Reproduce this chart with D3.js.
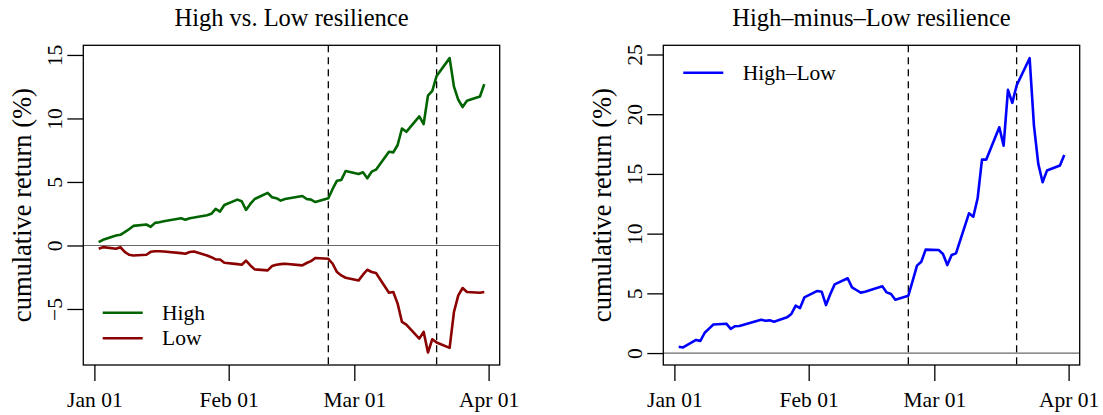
<!DOCTYPE html>
<html><head><meta charset="utf-8">
<script src="https://cdn.jsdelivr.net/npm/d3@7"></script>
<style>
body{margin:0;background:#fff}
svg{display:block}
text{font-family:"Liberation Serif","Times New Roman",serif;fill:#000}
</style>
</head><body>
<svg id="c" width="1103" height="415"></svg>
<script>
// ---------------- data ----------------
const dates = [
 "2020-01-02","2020-01-03","2020-01-06","2020-01-07","2020-01-08","2020-01-09","2020-01-10",
 "2020-01-13","2020-01-14","2020-01-15","2020-01-16","2020-01-17","2020-01-21","2020-01-22",
 "2020-01-23","2020-01-24","2020-01-27","2020-01-28","2020-01-29","2020-01-30","2020-01-31",
 "2020-02-03","2020-02-04","2020-02-05","2020-02-06","2020-02-07","2020-02-10","2020-02-11",
 "2020-02-12","2020-02-13","2020-02-14","2020-02-18","2020-02-19","2020-02-20","2020-02-21",
 "2020-02-24","2020-02-25","2020-02-26","2020-02-27","2020-02-28",
 "2020-03-02","2020-03-03","2020-03-04","2020-03-05","2020-03-06","2020-03-09","2020-03-10",
 "2020-03-11","2020-03-12","2020-03-13","2020-03-16","2020-03-17","2020-03-18","2020-03-19",
 "2020-03-20","2020-03-23","2020-03-24","2020-03-25","2020-03-26","2020-03-27","2020-03-30","2020-03-31"
];
const highRet = [
 0.26,0.45,0.79,0.84,1.05,1.28,1.54,1.65,1.47,1.78,1.83,1.91,2.15,2.02,2.15,2.20,2.38,2.49,2.88,2.67,3.19,
 3.61,3.48,2.80,3.27,3.66,4.14,3.80,3.72,3.53,3.66,3.90,3.66,3.61,3.42,3.72,4.45,5.10,5.16,5.86,
 5.63,5.76,5.29,5.81,5.97,7.38,7.33,7.91,9.21,8.95,10.16,9.55,11.80,12.17,13.35,14.75,12.51,11.47,10.90,11.39,11.73,12.70
];
const lowRet = [
 -0.26,-0.13,-0.26,-0.14,-0.50,-0.73,-0.79,-0.73,-0.50,-0.45,-0.45,-0.47,-0.60,-0.65,-0.52,-0.47,-0.79,-0.92,-1.10,-1.10,-1.36,
 -1.47,-1.52,-1.20,-1.57,-1.88,-1.96,-1.62,-1.52,-1.47,-1.44,-1.57,-1.38,-1.23,-0.98,-1.05,-1.44,-2.09,-2.36,-2.54,
 -2.75,-2.30,-1.91,-2.09,-2.17,-3.72,-3.66,-4.58,-6.02,-6.23,-7.33,-6.80,-8.43,-7.38,-7.64,-8.06,-5.24,-3.93,-3.35,-3.66,-3.72,-3.66
];
const hmlRet = [
 0.53,0.47,1.10,1.02,1.70,2.05,2.39,2.46,2.03,2.25,2.26,2.37,2.79,2.71,2.74,2.63,2.99,3.27,3.97,3.77,4.66,
 5.20,5.14,4.02,4.94,5.75,6.26,5.50,5.28,5.06,5.14,5.59,5.08,4.94,4.47,4.80,6.05,7.32,7.65,8.66,
 8.63,8.30,7.37,8.21,8.35,11.70,11.42,12.96,16.20,16.20,18.91,17.37,22.04,20.95,22.40,24.69,19.05,15.84,14.30,15.28,15.70,16.59
];
const xTickDates = ["2020-01-01","2020-02-01","2020-03-01","2020-04-01"];
const xTickLabels = ["Jan 01","Feb 01","Mar 01","Apr 01"];
const eventDates = ["2020-02-24","2020-03-20"];
const leftYTicks = [-5,0,5,10,15];
const rightYTicks = [0,5,10,15,20,25];
const leftYDomain = [-9.41,15.76];
const rightYDomain = [-1.0,25.77];
const leftTitle = "High vs. Low resilience";
const rightTitle = "High\u2013minus\u2013Low resilience";
const yLabel = "cumulative return (%)";

// ---------------- drawing ----------------
const parse = s => new Date(s + "T00:00:00Z");
const dts = dates.map(parse);
const svg = d3.select("#c");
svg.append("rect").attr("width",1103).attr("height",415).attr("fill","#fff");

const spanMs = dts[dts.length-1] - dts[0];
const xDomain = [new Date(+dts[0] - 0.04*spanMs), new Date(+dts[dts.length-1] + 0.04*spanMs)];

function panel(opt){
  const {x0,x1,y0,y1} = opt;
  const g = svg.append("g");
  const x = d3.scaleUtc().domain(xDomain).range([x0,x1]);
  const y = d3.scaleLinear().domain(opt.yDomain).range([y1,y0]);

  // zero line
  g.append("line").attr("x1",x0).attr("x2",x1).attr("y1",y(0)).attr("y2",y(0))
    .attr("stroke","#6a6a6a").attr("stroke-width",1.2);

  // event lines
  eventDates.forEach(e=>{
    g.append("line").attr("x1",x(parse(e))).attr("x2",x(parse(e))).attr("y1",y0).attr("y2",y1)
      .attr("stroke","#000").attr("stroke-width",1.3).attr("stroke-dasharray","7,5");
  });

  // series
  opt.series.forEach(s=>{
    const line = d3.line().x((d,i)=>x(dts[i])).y(d=>y(d));
    g.append("path").datum(s.values).attr("d",line).attr("fill","none")
      .attr("stroke",s.color).attr("stroke-width",2.6).attr("stroke-linejoin","round");
  });

  // box
  g.append("rect").attr("x",x0).attr("y",y0).attr("width",x1-x0).attr("height",y1-y0)
    .attr("fill","none").attr("stroke","#000").attr("stroke-width",1.3);

  // x axis
  const xa = g.append("g").attr("transform",`translate(0,${y1})`)
    .call(d3.axisBottom(x).tickValues(xTickDates.map(parse)).tickSize(16)
      .tickFormat((d,i)=>xTickLabels[i]));
  xa.select(".domain").remove();
  xa.selectAll(".tick line").attr("stroke","#000").attr("stroke-width",1.3);
  xa.selectAll(".tick text").attr("y",42).attr("dy",0).style("font-size","21.5px")
    .style("font-family","Liberation Serif").attr("fill","#000");

  // y axis
  const ya = g.append("g").attr("transform",`translate(${x0},0)`)
    .call(d3.axisLeft(y).tickValues(opt.yTicks).tickSize(16)
      .tickFormat(d=> d<0 ? "\u2212"+Math.abs(d) : String(d)));
  ya.select(".domain").remove();
  ya.selectAll(".tick line").attr("stroke","#000").attr("stroke-width",1.3);
  ya.selectAll(".tick text").attr("x",0).attr("dy",0).attr("text-anchor","middle")
    .attr("transform","translate(-21.3,0) rotate(-90)")
    .style("font-size","21.5px").style("font-family","Liberation Serif").attr("fill","#000");

  // title
  g.append("text").attr("x",(x0+x1)/2).attr("y",26).attr("text-anchor","middle")
    .style("font-size","24.5px").text(opt.title);

  // y label
  g.append("text").attr("transform",`translate(${x0-52.3},${(y0+y1)/2}) rotate(-90)`)
    .attr("text-anchor","middle").style("font-size","26.5px").text(yLabel);

  // legend
  opt.legend.forEach(l=>{
    g.append("line").attr("x1",x0+l.dx).attr("x2",x0+l.dx+40).attr("y1",l.y).attr("y2",l.y)
      .attr("stroke",l.color).attr("stroke-width",2.6);
    g.append("text").attr("x",x0+l.dx+59.4).attr("y",l.y+7).style("font-size","21.5px").text(l.label);
  });
}

panel({x0:83.3,x1:499.7,y0:45.3,y1:365,yDomain:leftYDomain,yTicks:leftYTicks,title:leftTitle,
  series:[{values:highRet,color:"#006400"},{values:lowRet,color:"#8B0000"}],
  legend:[{label:"High",color:"#006400",dx:19.4,y:312.7},{label:"Low",color:"#8B0000",dx:19.4,y:338.3}]});

panel({x0:663.3,x1:1079.7,y0:45.3,y1:365,yDomain:rightYDomain,yTicks:rightYTicks,title:rightTitle,
  series:[{values:hmlRet,color:"#0000FF"}],
  legend:[{label:"High\u2013Low",color:"#0000FF",dx:20,y:72.7}]});
</script>
</body></html>
